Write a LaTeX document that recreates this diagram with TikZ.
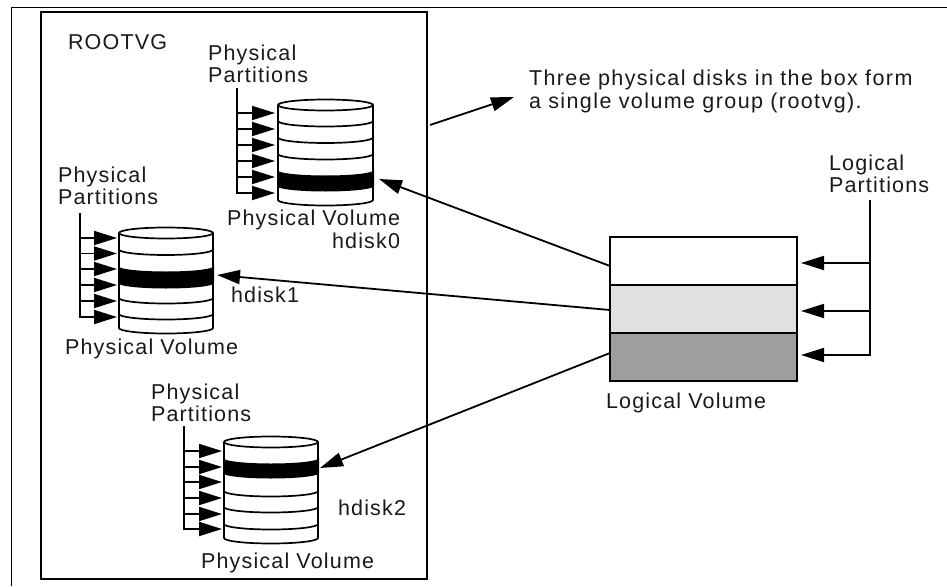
\documentclass[tikz,border=0pt]{standalone}
\usepackage{fontspec}
\setmainfont{Liberation Sans}
\newfontfamily\spaced[LetterSpace=5.5]{Liberation Sans}
\newfontfamily\spacedwide[LetterSpace=6.5]{Liberation Sans}
\usetikzlibrary{arrows.meta}
\tikzset{
  x=1pt,y=-1pt,
  every node/.style={inner sep=0pt,outer sep=0pt},
  lbl/.style={anchor=base west,align=left,font=\fontsize{21.5}{21.7}\selectfont\spaced,text=black!90},
  lblwide/.style={lbl,font=\fontsize{21.5}{22.3}\selectfont\spacedwide},
  wire/.style={line width=1.8pt,black},
  head/.style={wire,-{Triangle[length=23pt,width=14pt]}},
  lvpart/.style={draw=black,line width=1.8pt,minimum width=187pt,minimum height=48pt,anchor=north west},
  disk/.style={line width=1.7pt,black},
}
\newcommand{\cyl}[8]{%
  \pgfmathsetmacro{\cxm}{(#2+#3)/2}%
  \pgfmathsetmacro{\crx}{(#3-#2)/2}%
  \draw[disk,fill=white] (#2,#4) -- (#2,#5) arc[start angle=180,end angle=360,x radius=\crx,y radius=-5.5] -- (#3,#4);
  \draw[disk] (\cxm,#4) ellipse[x radius=\crx,y radius=5.5];
  \foreach \ly in {#8} {\draw[disk] (#2,\ly) arc[start angle=180,end angle=360,x radius=\crx,y radius=-5.5];}
  \fill[black] (#2-1,#6) arc[start angle=180,end angle=360,x radius=\crx+1,y radius=-5.5] -- (#3+1,#7) arc[start angle=360,end angle=180,x radius=\crx+1,y radius=-5.5] -- cycle;
}
\newcommand{\comb}[4]{%
  \foreach \cy [count=\ci] in {#4} {
    \coordinate (c\ci) at (#1,\cy);
    \coordinate (t\ci) at (#3,\cy);
    \draw[head] (c\ci) -- (t\ci);
    \xdef\lastcy{\cy}
  }
  \draw[wire,line cap=rect] (#1,#2) -- (#1,\lastcy);
}
\begin{document}
\begin{tikzpicture}
\useasboundingbox (0,0) rectangle (947,586);
\coordinate (fa) at (11,586); \coordinate (fb) at (11,8); \coordinate (fc) at (947,8);
\draw[line width=1pt,black] (fa) -- (fb) -- (fc);
\node[draw=black,line width=2.6pt,minimum width=386pt,minimum height=567pt,anchor=north west] (rootvg) at (41,12) {};
\node[lbl] (rootlabel) at (68,50) {ROOTVG};
\cyl{d0}{278}{373}{105}{200}{170}{186}{121,137.5,154}
\cyl{d1}{119}{213}{233}{328}{266}{283}{249.5,298,314}
\cyl{d2}{224}{318}{442}{538}{458}{473}{491,507,524}
\comb{237}{89}{275}{113,129,145,161,177,193}
\comb{80}{214}{117}{238,253.5,269,285,301,317}
\comb{184}{427}{222}{451,467,482,498,514,529}
\node[lbl] (pp0) at (208,82) {Physical\\Partitions};
\node[lbl] (pv0) at (227,225) {Physical Volume};
\node[lbl] (hd0) at (332,248) {hdisk0};
\node[lbl] (pp1) at (58,204) {Physical\\Partitions};
\node[lbl] (hd1) at (231,302) {hdisk1};
\node[lbl] (pv1) at (65,354) {Physical Volume};
\node[lbl] (pp2) at (151,421) {Physical\\Partitions};
\node[lbl] (hd2) at (338,515) {hdisk2};
\node[lbl] (pv2) at (201,568) {Physical Volume};
\node[lblwide] (note) at (529,108) {Three physical disks in the box form\\a single volume group (rootvg).};
\node[lvpart,fill=white] (lv1) at (610,237) {};
\node[lvpart,fill=black!12] (lv2) at (610,285) {};
\node[lvpart,fill=black!38] (lv3) at (610,333) {};
\node[lbl] (lvl) at (606,408) {Logical Volume};
\node[lbl] (lp) at (829,192) {Logical\\Partitions};
\coordinate (s0) at (870,201);
\coordinate (s1) at (870,263); \coordinate (s2) at (870,311); \coordinate (s3) at (870,355);
\coordinate (l1) at (801,263); \coordinate (l2) at (801,311); \coordinate (l3) at (801,355);
\draw[wire,line cap=rect] (s0) -- (s3);
\draw[head] (s1) -- (l1);
\draw[head] (s2) -- (l2);
\draw[head] (s3) -- (l3);
\coordinate (a0) at (610,266); \coordinate (a1) at (610,310); \coordinate (a2) at (610,353);
\coordinate (i0) at (379,179); \coordinate (i1) at (217,275); \coordinate (i2) at (320,468);
\draw[head] (a0) -- (i0);
\draw[head] (a1) -- (i1);
\draw[head] (a2) -- (i2);
\coordinate (n0) at (430,125); \coordinate (n1) at (514,97);
\draw[head] (n0) -- (n1);
\end{tikzpicture}
\end{document}
